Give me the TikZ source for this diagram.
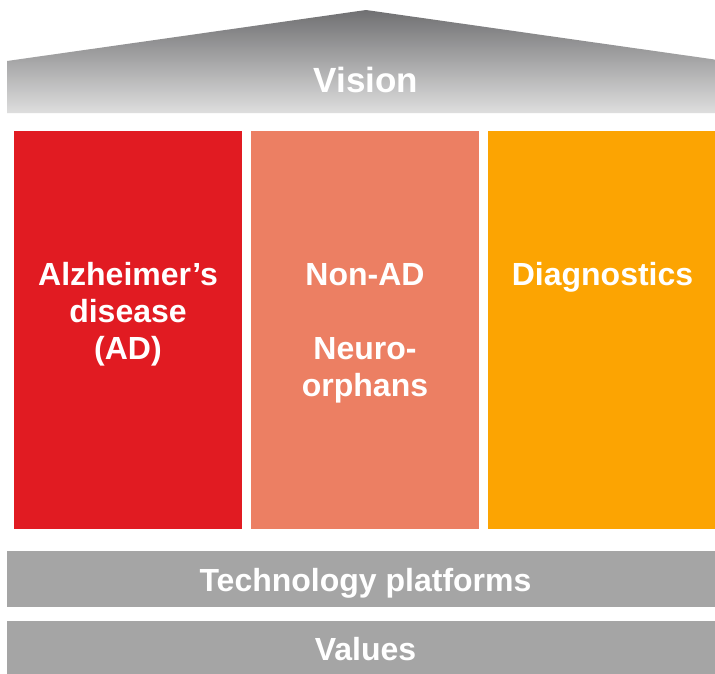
\documentclass[tikz,border=0pt]{standalone}
\usepackage{fontspec}
\setmainfont{Liberation Sans}
\definecolor{adred}{HTML}{E11B22}
\definecolor{salmon}{HTML}{EC7F63}
\definecolor{diagorange}{HTML}{FCA402}
\definecolor{bargray}{HTML}{A5A5A5}
\definecolor{rooftop}{HTML}{707072}
\definecolor{roofbot}{HTML}{DEDEDE}
\tikzset{
  colbox/.style={inner sep=0pt, outer sep=0pt, minimum width=228pt, minimum height=398pt},
  barbox/.style={fill=bargray, inner sep=0pt, outer sep=0pt, minimum width=717pt, minimum height=56pt},
  label/.style={text=white, font=\bfseries\fontsize{32}{37}\selectfont, align=center, inner sep=0pt, anchor=base},
  biglabel/.style={label, font=\bfseries\fontsize{35}{40}\selectfont}
}
\begin{document}
\begin{tikzpicture}[x=1pt,y=-1pt]
\useasboundingbox (0,0) rectangle (715,673);
\clip (0,0) rectangle (715,673);
\fill[white] (0,0) rectangle (715,673);
% roof
\shade[top color=rooftop, bottom color=roofbot] (7,113) -- (7,61) -- (366,10) -- (725,61) -- (725,113) -- cycle;
\node[biglabel] (vision) at (366,92) {Vision};
% pillars
\node[colbox, fill=adred] (ad) at (128,330) {};
\node[colbox, fill=salmon] (nonad) at (365,330) {};
\node[colbox, fill=diagorange, minimum width=229pt] (diag) at (602.5,330) {};
\node[label] (adtext) at (ad.center |- 0,359) {Alzheimer’s\\disease\\(AD)};
\node[label] (nonadtext) at (nonad.center |- 0,396) {Non-AD\\[37pt]Neuro-\\orphans};
\node[label] (diagtext) at (diag.center |- 0,285) {Diagnostics};
% base bars
\node[barbox] (tech) at (365.5,579) {};
\node[barbox] (values) at (365.5,649) {};
\node[label] (techtext) at (365.5,591) {Technology platforms};
\node[label] (valuestext) at (365.5,660) {Values};
\end{tikzpicture}
\end{document}
